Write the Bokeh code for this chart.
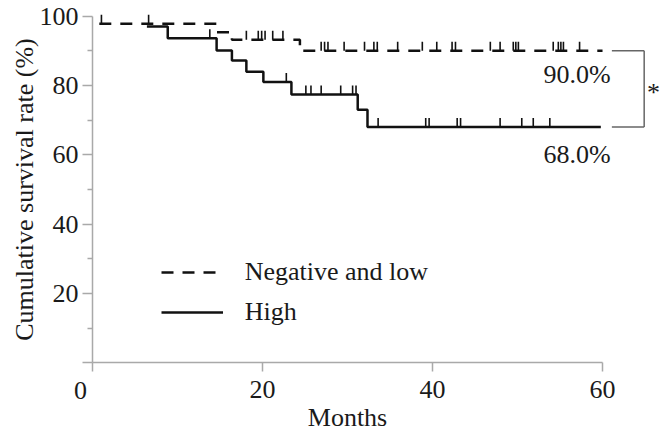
from bokeh.plotting import figure
from bokeh.models import Range1d, FixedTicker, Label, Legend, LegendItem
from bokeh.embed import file_html
from bokeh.resources import INLINE

# ---- data ----
neg_time = [0.8, 14.6, 16.4, 24.4, 60.0]
neg_surv = [97.8, 95.4, 93.2, 90.0, 90.0]
neg_censor = [1.05, 6.6, 18.1, 19.5, 19.9, 20.3, 21.2, 22.4, 26.9, 27.3, 27.7,
              29.6, 32.0, 33.1, 33.5, 35.9, 38.8, 40.5, 42.3, 42.7, 46.8, 47.95,
              49.5, 49.8, 50.1, 54.2, 54.8, 55.1, 55.4, 57.3]

high_time = [6.4, 8.85, 14.6, 16.4, 18.1, 20.1, 23.4, 31.2, 32.35, 59.8]
high_surv = [97.0, 93.65, 90.1, 87.2, 84.0, 81.0, 77.4, 73.0, 68.0, 68.0]
high_censor = [13.8, 22.8, 25.1, 25.7, 26.9, 29.2, 30.6, 31.0, 33.6, 39.2, 39.6,
               42.9, 43.3, 47.95, 50.5, 51.85, 53.8]

x_ticks = [0, 20, 40, 60]
y_ticks = [0, 20, 40, 60, 80, 100]
y_minor = [10, 30, 50, 70, 90]
labels = ["Negative and low", "High"]
end_labels = ["90.0%", "68.0%"]

FONT = "Liberation Serif"
AX = "#a9a9a9"
TXT = "#1a1a1a"


def surv_at(t, times, surv):
    s = surv[0]
    for tt, ss in zip(times, surv):
        if tt <= t:
            s = ss
    return s


p = figure(width=660, height=438, output_backend="svg", toolbar_location=None,
           x_range=Range1d(-10.824, 66.82), y_range=Range1d(-21.88, 104.53),
           min_border_left=0, min_border_right=0, min_border_top=0,
           min_border_bottom=0)
p.outline_line_color = None
p.xgrid.visible = False
p.ygrid.visible = False
p.background_fill_color = "white"
p.border_fill_color = "white"

# survival curves
r_neg = p.step(neg_time, neg_surv, mode="after", line_color="#111111",
               line_width=2.5, line_dash="12 9")
r_high = p.step(high_time, high_surv, mode="after", line_color="#111111",
                line_width=2.5)

# censor marks
tick_len = 2.6
nc_y = [surv_at(t, neg_time, neg_surv) for t in neg_censor]
hc_y = [surv_at(t, high_time, high_surv) for t in high_censor]
p.segment(x0=neg_censor, y0=nc_y, x1=neg_censor, y1=[v + tick_len for v in nc_y],
          line_color="#111111", line_width=1.6)
p.segment(x0=high_censor, y0=hc_y, x1=high_censor, y1=[v + tick_len for v in hc_y],
          line_color="#111111", line_width=1.6)

# axes (fixed at the origin)
for ax in (p.xaxis[0], p.yaxis[0]):
    ax.fixed_location = 0
    ax.axis_line_color = AX
    ax.axis_line_width = 1.5
    ax.major_tick_line_color = AX
    ax.major_tick_line_width = 1.5
    ax.minor_tick_line_color = AX
    ax.minor_tick_line_width = 1.5
    ax.major_tick_in = 0
    ax.minor_tick_in = 0
    ax.major_label_text_font = FONT
    ax.major_label_text_font_size = "26px"
    ax.major_label_text_color = TXT
    ax.axis_label_text_font = FONT
    ax.axis_label_text_font_size = "26px"
    ax.axis_label_text_font_style = "normal"
    ax.axis_label_text_color = TXT

xa = p.xaxis[0]
xa.ticker = FixedTicker(ticks=x_ticks, minor_ticks=[])
xa.bounds = (0, 60)
xa.major_tick_out = 9
xa.major_label_standoff = 9
xa.major_label_overrides = {0: ""}
xa.axis_label = "Months"
xa.axis_label_standoff = 2

ya = p.yaxis[0]
ya.ticker = FixedTicker(ticks=y_ticks, minor_ticks=y_minor)
ya.bounds = (0, 100)
ya.major_tick_out = 10
ya.minor_tick_out = 5
ya.major_label_standoff = 4
ya.major_label_overrides = {0: ""}
ya.axis_label = "Cumulative survival rate (%)"
ya.axis_label_standoff = -2

# shared origin label
p.add_layout(Label(x=-1.41, y=-7.94, text="0", text_font=FONT, text_font_size="26px",
                   text_color=TXT, text_align="center", text_baseline="middle"))

# end-point labels
p.add_layout(Label(x=53.06, y=83.3, text=end_labels[0], text_font=FONT,
                   text_font_size="26px", text_color=TXT, text_align="left",
                   text_baseline="middle"))
p.add_layout(Label(x=53.06, y=60.2, text=end_labels[1], text_font=FONT,
                   text_font_size="26px", text_color=TXT, text_align="left",
                   text_baseline="middle"))

# significance bracket
bx0, bx1 = 61.1, 64.9
top, bot = neg_surv[-1], high_surv[-1]
p.segment(x0=[bx0, bx1, bx1], y0=[top, top, bot], x1=[bx1, bx1, bx0], y1=[top, bot, bot],
          line_color="#666666", line_width=1.5)
p.add_layout(Label(x=66.0, y=78.0, text="*", text_font=FONT, text_font_size="26px",
                   text_color=TXT, text_align="center", text_baseline="middle"))

legend = Legend(items=[LegendItem(label=labels[0], renderers=[r_neg]),
                       LegendItem(label=labels[1], renderers=[r_high])],
                location=(160.7, 110.7))
legend.background_fill_alpha = 0
legend.border_line_alpha = 0
legend.padding = 0
legend.margin = 0
legend.spacing = 10
legend.glyph_height = 30
legend.label_height = 30
legend.glyph_width = 62
legend.label_standoff = 22
legend.label_text_font = FONT
legend.label_text_font_size = "26px"
legend.label_text_color = TXT
p.add_layout(legend)

open("out.html", "w").write(file_html(p, INLINE))
